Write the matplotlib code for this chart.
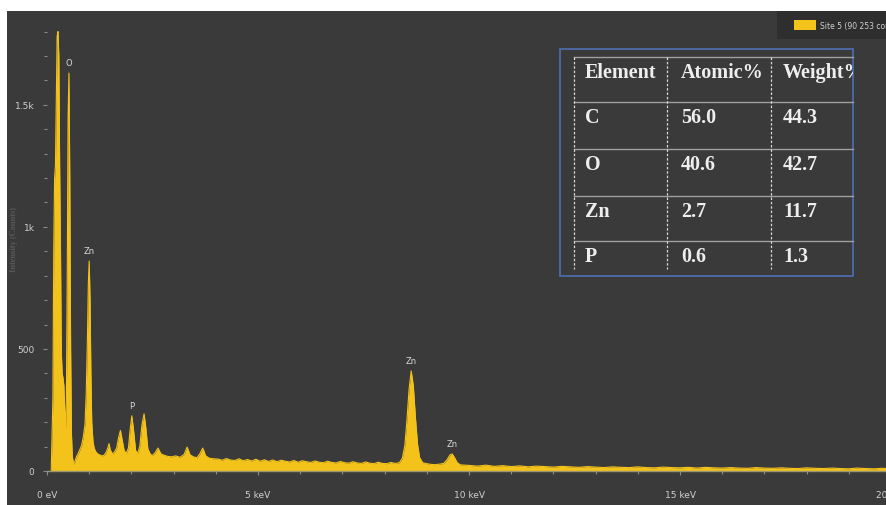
import numpy as np
import matplotlib
matplotlib.use("Agg")
import matplotlib.pyplot as plt
from matplotlib.patches import Rectangle

# spectrum, split in pieces (energy in keV, counts)
light_e = [0.10, 0.14, 0.16, 0.18, 0.20, 0.22, 0.24, 0.26, 0.28, 0.30, 0.32, 0.34,
           0.36, 0.38, 0.40, 0.42, 0.44, 0.46, 0.48, 0.50, 0.52, 0.54, 0.56, 0.58,
           0.60, 0.63, 0.66, 0.70, 0.74, 0.78, 0.82, 0.86, 0.90, 0.93, 0.96, 0.98,
           1.00, 1.02, 1.04, 1.06, 1.09, 1.12, 1.16, 1.20, 1.25, 1.30]
light_c = [0, 300, 900, 1200, 1250, 1500, 1780, 1800, 1700, 1250, 900, 480,
           400, 380, 350, 250, 170, 300, 800, 1450, 1630, 1200, 500, 150,
           60, 28, 38, 60, 72, 88, 105, 140, 190, 320, 560, 770,
           860, 700, 400, 200, 120, 92, 78, 70, 66, 62]

mid_e = [1.35, 1.40, 1.44, 1.47, 1.50, 1.55, 1.60, 1.65, 1.70, 1.74, 1.78, 1.83,
         1.88, 1.93, 1.97, 2.01, 2.05, 2.10, 2.15, 2.20, 2.25, 2.30, 2.34, 2.39,
         2.45, 2.50, 2.56, 2.63, 2.70, 2.78, 2.86, 2.95, 3.05, 3.15, 3.25, 3.32,
         3.39, 3.47, 3.55, 3.62, 3.69, 3.76, 3.85, 3.95]
mid_c = [64, 76, 94, 112, 86, 70, 78, 94, 140, 166, 128, 82,
         74, 94, 170, 226, 168, 84, 72, 102, 190, 234, 180, 90,
         68, 64, 74, 94, 70, 64, 60, 58, 62, 56, 68, 98,
         66, 58, 54, 70, 94, 62, 52, 50]

bkg_e = [4.05, 4.15, 4.25, 4.35, 4.45, 4.55, 4.65, 4.75, 4.85, 4.95, 5.05, 5.15,
         5.25, 5.35, 5.45, 5.55, 5.65, 5.75, 5.85, 5.95, 6.05, 6.15, 6.25, 6.35,
         6.45, 6.55, 6.65, 6.75, 6.85, 6.95, 7.05, 7.15, 7.25, 7.35, 7.45, 7.55,
         7.65, 7.75, 7.85, 7.95, 8.05, 8.15, 8.25]
bkg_c = [49, 44, 51, 45, 43, 50, 42, 47, 41, 48, 40, 46,
         39, 45, 38, 44, 40, 37, 43, 36, 42, 38, 35, 41,
         36, 34, 40, 35, 33, 39, 34, 32, 38, 33, 31, 37,
         32, 30, 36, 31, 30, 35, 31]

znk_e = [8.35, 8.42, 8.48, 8.53, 8.58, 8.63, 8.68, 8.73, 8.78, 8.83, 8.90, 9.00,
         9.10, 9.20, 9.30, 9.40, 9.48, 9.55, 9.60, 9.66, 9.72, 9.80, 9.90]
znk_c = [34, 52, 105, 210, 335, 410, 350, 220, 110, 55, 34, 30,
         27, 26, 28, 31, 46, 66, 70, 54, 34, 25, 24]

tail_e = [10.0, 10.2, 10.4, 10.6, 10.8, 11.0, 11.2, 11.4, 11.6, 11.8, 12.0, 12.2,
          12.4, 12.6, 12.8, 13.0, 13.2, 13.4, 13.6, 13.8, 14.0, 14.2, 14.4, 14.6,
          14.8, 15.0, 15.2, 15.4, 15.6, 15.8, 16.0, 16.2, 16.4, 16.6, 16.8, 17.0,
          17.2, 17.4, 17.6, 17.8, 18.0, 18.2, 18.4, 18.6, 18.8, 19.0, 19.2, 19.4,
          19.6, 19.8, 20.0, 20.2, 20.4, 20.6]
tail_c = [23, 20, 24, 19, 22, 18, 21, 17, 20, 18, 16, 19,
          17, 15, 18, 16, 14, 17, 15, 14, 17, 14, 13, 16,
          14, 13, 15, 12, 15, 13, 12, 14, 12, 11, 14, 12,
          11, 13, 11, 10, 13, 11, 10, 12, 10, 9, 12, 10,
          9, 11, 9, 11, 9, 10]

peak_names = ["O", "Zn", "P", "Zn", "Zn"]
peak_energy = [0.52, 1.00, 2.01, 8.63, 9.60]

elements = ["C", "O", "Zn", "P"]
atomic = ["56.0", "40.6", "2.7", "0.6"]
weight = ["44.3", "42.7", "11.7", "1.3"]
headers = ["Element", "Atomic%", "Weight%"]

legend_label = "Site 5 (90 253 counts)"

energy = np.array(light_e + mid_e + bkg_e + znk_e + tail_e)
counts = np.array(light_c + mid_c + bkg_c + znk_c + tail_c)

W, H = 886, 506
dark = "#3a3a3a"
yellow = "#f3c31b"

fig = plt.figure(figsize=(W / 100, H / 100), dpi=100, facecolor="white")
fig.patches.append(Rectangle((7 / W, 0), 1, 1 - 12 / H, transform=fig.transFigure,
                             facecolor=dark, edgecolor="none", zorder=-10))

# main axes: 0 keV at x=47px, 0 counts at y=472px
ax = fig.add_axes([47 / W, (H - 472) / H, 42.2 * 20.6 / W, (472 - 13) / H])
ax.set_facecolor(dark)
ax.fill_between(energy, counts, color=yellow, lw=0)
ax.plot(energy, counts, color=yellow, lw=0.8)
ax.set_xlim(0, 20.6)
ax.set_ylim(0, 1880)

for s in ["top", "right", "left"]:
    ax.spines[s].set_visible(False)
ax.spines["bottom"].set_color("#9a9470")
ax.spines["bottom"].set_linewidth(1.0)

ax.set_xticks([0, 5, 10, 15, 20])
ax.set_xticklabels(["0 eV", "5 keV", "10 keV", "15 keV", "20 keV"])
ax.set_xticks(np.arange(0, 21, 1), minor=True)
ax.set_yticks([0, 500, 1000, 1500])
ax.set_yticklabels(["0", "500", "1k", "1.5k"])
ax.set_yticks(np.arange(0, 1801, 100), minor=True)
ax.tick_params(which="both", colors="#8a8a8a", labelcolor="#d0d0d0", labelsize=6.5,
               width=0.8)
ax.tick_params(which="major", length=3, pad=6)
ax.tick_params(which="minor", length=2)
ax.tick_params(axis="x", which="major", pad=11)

for name, e in zip(peak_names, peak_energy):
    top = np.interp(e, energy, counts)
    ax.text(e, top + 25, name, color="#d8d8d8", fontsize=6, ha="center", va="bottom")

fig.text(14 / W, 1 - 240 / H, "Intensity (Counts)", rotation=90, color="#5a5a5a",
         fontsize=6, ha="center", va="center", family="Liberation Serif",
         fontweight="bold")

# overlay in pixel coordinates for legend and table
ov = fig.add_axes([0, 0, 1, 1])
ov.set_xlim(0, W)
ov.set_ylim(H, 0)
ov.axis("off")
ov.patch.set_visible(False)

ov.add_patch(Rectangle((777, 12), 120, 28, facecolor="#2e2e2e", edgecolor="none"))
ov.add_patch(Rectangle((794, 21), 22, 10, facecolor=yellow, edgecolor="none"))
ov.text(820, 26, legend_label, color="#d0d0d0", fontsize=5.5, va="center", ha="left")

box = Rectangle((560, 50), 293, 227, facecolor=dark, edgecolor="#4f6fb3", lw=1.2)
ov.add_patch(box)

row_lines = [58, 103, 150, 197, 242]
for y in row_lines:
    ov.plot([574, 853], [y, y], color="#a0a0a0", lw=1.0)
for x in [574, 667, 771]:
    ov.plot([x, x], [58, 270], color="#d8d8d8", lw=0.9, ls=(0, (2, 1.5)))

col_x = [585, 681, 783]
text_y = [73, 118, 165, 212, 257]
font = dict(family="Liberation Serif", fontweight="bold", fontsize=14.5, color="#eeeeee",
            va="center", ha="left", clip_on=True)
for x, h in zip(col_x, headers):
    t = ov.text(x, text_y[0], h, **font)
    t.set_clip_path(box)
for i in range(len(elements)):
    for x, v in zip(col_x, [elements[i], atomic[i], weight[i]]):
        t = ov.text(x, text_y[i + 1], v, **font)
        t.set_clip_path(box)

fig.savefig("out.png", dpi=100, facecolor=fig.get_facecolor())
